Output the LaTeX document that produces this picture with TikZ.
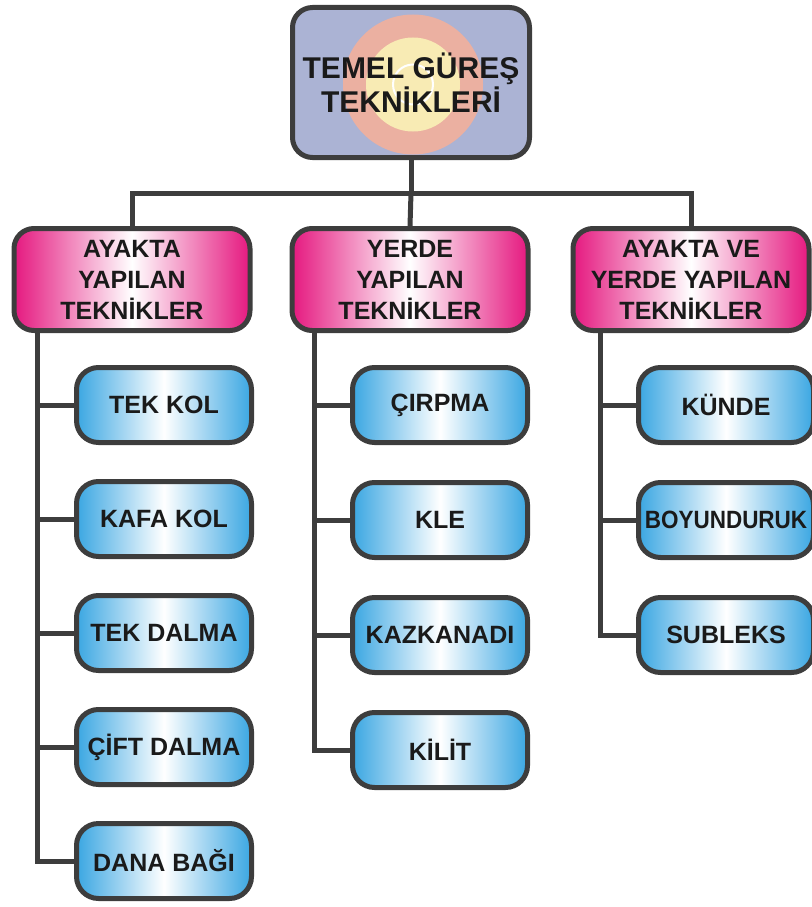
\documentclass[tikz,border=0pt]{standalone}
\usepackage{graphicx}
\usepackage{fontspec}
\setmainfont{Liberation Sans}
\usetikzlibrary{calc, positioning}
\definecolor{kenar}{HTML}{3D3D3D}
\definecolor{mor}{HTML}{ABB3D4}
\definecolor{somon}{HTML}{EBB0A1}
\definecolor{sari}{HTML}{F8EBB4}
\definecolor{pembe}{HTML}{E5187F}
\definecolor{mavi}{HTML}{3AA6E2}
\definecolor{yazi}{HTML}{1A1A1A}

\begin{document}
\begin{tikzpicture}[x=1pt, y=-1pt,
    ana/.style={draw=kenar, line width=5pt, rounded corners=20pt, fill=mor,
                minimum width=237pt, minimum height=150pt, text=yazi,
                font=\bfseries\fontsize{30}{34}\selectfont, align=center},
    grup/.style={draw=kenar, line width=5pt, rounded corners=20pt,
                 left color=pembe, right color=pembe, middle color=white,
                 minimum width=236pt, minimum height=102pt, text=yazi,
                 font=\bfseries\fontsize{25}{31}\selectfont, align=center},
    teknik/.style={draw=kenar, line width=5pt, rounded corners=22pt,
                   left color=mavi, right color=mavi, middle color=white,
                   minimum width=175pt, minimum height=75pt, text=yazi,
                   font=\bfseries\fontsize{25}{28}\selectfont, align=center},
    conn/.style={draw=kenar, line width=5pt}
  ]
    \useasboundingbox (0,0) rectangle (811,907);

    % ana baslik, hedef dairelerle
    \node[ana, path picture={
        \fill[somon] ($(path picture bounding box.center)+(2,2)$) circle (70pt);
        \fill[sari] ($(path picture bounding box.center)+(2,2)$) circle (47pt);
        \draw[white, line width=2pt] ($(path picture bounding box.center)+(2,2)$) circle (20pt);
      }] (top) at (411,82.5) {TEMEL GÜREŞ\\TEKNİKLERİ};

    % gruplar
    \node[grup] (ayakta) at (132,279.5) {AYAKTA\\YAPILAN\\TEKNİKLER};
    \node[grup] (yerde)  at (410,279.5) {YERDE\\YAPILAN\\TEKNİKLER};
    \node[grup] (ikisi)  at (691,279.5) {AYAKTA VE\\YERDE YAPILAN\\TEKNİKLER};

    \coordinate (bar) at (411,193);
    \draw[conn] (top) -- (bar);
    \draw[conn] (ayakta.north) |- (bar) -| (ikisi.north);
    \draw[conn] (bar) -- (yerde.north);

    % ayakta teknikleri
    \node[teknik] (tekkol)   at (164,405) {TEK KOL};
    \node[teknik] (kafakol)  at (164,519) {KAFA KOL};
    \node[teknik] (tekdalma) at (164,633) {TEK DALMA};
    \node[teknik] (cift)     at (164,747) {ÇİFT DALMA};
    \node[teknik] (dana)     at (164,861) {DANA BAĞI};

    % yerde teknikleri
    \node[teknik] (cirpma)   at (440,405) {ÇIRPMA};
    \node[teknik] (kle)      at (440,520) {KLE};
    \node[teknik] (kazkanadi) at (440,635) {KAZKANADI};
    \node[teknik] (kilit)    at (440,750) {KİLİT};

    % ayakta ve yerde teknikleri
    \node[teknik] (kunde)    at (726,405) {KÜNDE};
    \node[teknik] (boyun)    at (726,520) {\scalebox{0.9}[1]{BOYUNDURUK}};
    \node[teknik] (subleks)  at (726,635) {SUBLEKS};

    % dallar
    \coordinate (t1) at (37,333);
    \coordinate (t2) at (314,333);
    \coordinate (t3) at (600,333);
    \draw[conn] (t1) |- (dana.west);
    \draw[conn] (tekkol.west) -- (tekkol.west -| t1);
    \draw[conn] (kafakol.west) -- (kafakol.west -| t1);
    \draw[conn] (tekdalma.west) -- (tekdalma.west -| t1);
    \draw[conn] (cift.west) -- (cift.west -| t1);

    \draw[conn] (t2) |- (kilit.west);
    \draw[conn] (cirpma.west) -- (cirpma.west -| t2);
    \draw[conn] (kle.west) -- (kle.west -| t2);
    \draw[conn] (kazkanadi.west) -- (kazkanadi.west -| t2);

    \draw[conn] (t3) |- (subleks.west);
    \draw[conn] (kunde.west) -- (kunde.west -| t3);
    \draw[conn] (boyun.west) -- (boyun.west -| t3);
  \end{tikzpicture}
\end{document}
